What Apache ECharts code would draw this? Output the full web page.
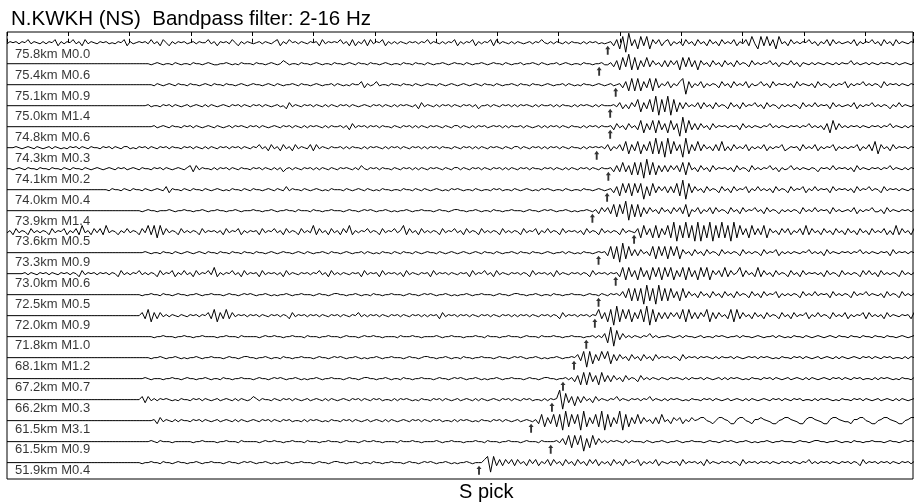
<!DOCTYPE html>
<html>
<head>
<meta charset="utf-8">
<script src="https://cdn.jsdelivr.net/npm/echarts@6/dist/echarts.min.js"></script>
<style>
  html, body { margin: 0; padding: 0; background: #fff; }
  #chart { width: 917px; height: 504px; }
</style>
</head>
<body>
<div id="chart"></div>
<script>
// event list, top to bottom
var distances = [75.8, 75.4, 75.1, 75.0, 74.8, 74.3, 74.1, 74.0, 73.9, 73.6, 73.3, 73.0, 72.5, 72.0, 71.8, 68.1, 67.2, 66.2, 61.5, 61.5, 51.9];
var magnitudes = [0.0, 0.6, 0.9, 1.4, 0.6, 0.3, 0.2, 0.4, 1.4, 0.5, 0.9, 0.6, 0.5, 0.9, 1.0, 1.2, 0.7, 0.3, 3.1, 0.9, 0.4];
// S pick time of each trace (s from the left edge)
var sPicks = [9.80, 9.66, 9.93, 9.84, 9.84, 9.62, 9.81, 9.79, 9.55, 10.23, 9.65, 9.93, 9.65, 9.59, 9.45, 9.25, 9.07, 8.89, 8.55, 8.87, 7.70];

// waveforms: one digit per sample, sampleInterval apart, starting at t = 0
// digit -> amplitude (px, up positive) via ampLevels
var sampleInterval = 0.049;
var ampLevels = [0, -9.5, -6.2, -3.1, -1.1, 0, 1.1, 3.1, 6.2, 9.5];
var traceCodes = [
  "4656465746 5464657364 6574637465 4656454657 3645656474 6375364656 4564655746 3656475364 6545646546 7364756465 4656374656 5746373647 3746573646 4654656465 7465464657 3646573646 5737465464 6545646575 4646546465 5464656454 5637281937 2838274736 7364637463 7463746374 6473647384 2838372846 3746465746 3647374645 6473646574 6374637465 4656465465",
  "5555555555 5555555555 5555555555 5555555555 5555555545 6545546545 5465545654 4556545465 5546554565 4576455465 5456545546 5545654655 4655456545 5465546554 6545565456 5546545565 4565546545 5645565465 4556456545 5465545564 4637283928 2738374637 3747283837 2746374637 4637465374 6465746365 4746365464 6546546465 5746456465 4656546456 5465645565",
  "5555555555 5555555555 5555555555 5555555555 5555555554 6545654655 4655456546 5546554565 4565545654 6545565465 5456545564 6545465573 6457455465 5465546545 6554654565 4565456546 5546545565 4655465545 6545564654 5465545654 5645637282 8273828364 7364781736 4736465374 6374647364 5746374656 4637465463 7465364657 3646574646 5374656465 4656465546",
  "5555555555 5555555555 5555555555 5555555555 5555555645 5465646545 6456546465 4565465646 5465646545 6453746546 5646546465 4656465456 5465646546 4656546374 6546465646 5465646355 6465465646 4656546465 5646465546 4656546465 5564736374 8273829182 9182737464 7374637465 3746374657 4637465364 6465374647 4656374645 6473646574 6465364746 5465646545",
  "5555555555 5555555555 5555555555 5555555555 5555555556 4565465546 5646545654 6545646565 4656465456 5465646546 4656546465 5646374656 4656465546 5465646465 4656546546 6465464656 4565646465 5646545646 4656465465 5464656465 5637463746 3827382837 2837192837 3746374656 4656374646 5465746465 4656465746 4637283746 4656465465 6465746546 4656546465",
  "5556545654 6545646545 4656465465 5465646546 6454656465 4656465546 5646546465 4656465646 5465746374 6374637465 4737465465 5646465546 4656546465 6465465646 4656465546 5465646465 4656546546 6465465646 4656465465 5464656564 7364738273 8273829281 9283719273 8374637383 6374647364 6473646573 4656374647 3646573646 4657364738 2746374656 4656465465",
  "5545654655 4655465546 5465546545 6545654656 4565465546 5646545654 6737465546 4656465465 5465646546 4635646546 5646465465 4656546475 4656465546 5465646465 4656546546 6465465646 5465646465 4656465546 5646546465 4656465465 5637383728 2819282737 3747382846 3746374656 4637465374 6465746364 5746465465 3656474656 4637465465 6465746546 4656465465",
  "5555555555 5555555555 5555555555 5555465546 5465546545 6547365546 5465546545 6545465546 5465545654 6547465546 5456545465 5546545654 6545465545 5465546546 5456545465 6545546545 5465645546 5456545465 6545546545 5465545654 5637283828 3817283747 3738291837 4637465374 6374657364 7464637465 3746573647 4656374656 4637465746 5374656465 4656465465",
  "5555555555 5555555555 5555555555 5555555555 5555545655 4555654556 5545565455 6554556545 5565545565 4556554655 5465545565 5545655456 5654556545 4556545565 5545655456 6554556545 5465545565 5545655456 5654556545 4556546374 7382839182 8273746374 6374738264 7364737465 3746374657 4637465364 6465374647 4656374645 6473646574 4637465465 6465465646",
  "4637465374 6465374657 3647384637 4738465364 7465374838 2837465374 6465374656 4637465736 4656374657 4637465374 6483746374 6374836465 7465374657 4683746374 6465374657 4637465374 6465374646 5374657364 7465374656 4637465374 6465374654 7283728273 8291829281 9182918292 8192837283 7382746374 7364738374 6374637463 7463746374 6473638374 6374637465",
  "5555555555 5555555555 5555555555 5555555555 5555556545 5465546545 6545654655 4655465546 5546554565 4565545654 6545565465 5456545564 6545465546 5465546545 6554654565 4565456546 5546545565 4655465545 6545564654 5465545656 3828192837 3746382838 2838274637 4637465374 6465374646 5374657364 6465465746 4637465465 6465746465 4656374656 4656465465",
  "5555556465 4656465465 6465374656 4656465374 6465746465 3746573647 4637465748 3646574637 4656374656 4637465465 6465746374 6465465637 4656374656 4637465465 6374656465 4656374657 4637465465 6465374656 4637465465 6465374656 4656382837 2837283828 3827382837 2838274738 3746837463 8374637465 3746374656 4637465374 6465374746 3746465374 6465374656",
  "5555555555 5555555555 5555555555 5555555555 5555545565 5465545655 4556545565 5545655456 5654556545 4556545565 5545655456 6554556545 5465545565 5545655456 5654556545 4556545565 5545655456 6554556545 5465545565 5545655465 4656473828 2819281928 2837283746 3746374637 4637465374 6374657364 6465374647 4656374646 5374657465 4637465374 6465374656",
  "5555555555 5555555555 5555555555 5555555555 5555573827 3746465465 4656465738 2738374656 4656465465 6465374656 4656465465 6465465746 4656465465 6465465646 4656374656 4656465465 6465465646 4656465465 6465374656 4656465837 2819283827 3829182737 3747382837 3748273746 3828374637 4637465374 6374657364 7465374647 3646573746 4637465465 6374656465",
  "5555555555 5555555555 5555555555 5555555555 5555555554 5565554556 5545565555 4556555465 5555456556 5545565554 6555455655 5456555456 5565545555 4655565545 5556545565 5545556554 6555455655 5456555465 5565545565 5545564647 2918374646 5465746455 6545646554 5645546565 4556465545 6545564654 5465546545 6545654655 4655465546 5546554565 4565545654",
  "5555555555 5555555555 5555555555 5555555555 5555555545 5654556545 4556545565 5545655456 6554556545 5465545565 5545655456 5654556545 4556545565 5545655456 6554556545 5465545565 5545655456 5654556545 4556545565 7381827384 8273746374 6374637465 6465374656 4656546465 5646545656 4656545465 5465646545 6456546465 4565465646 5465645546 4656545465",
  "5555555555 5555555555 5555555555 5555555555 5555556545 5545565545 6554556545 5465545565 5545655456 5654556545 4556545565 5545655456 6554556545 5465545565 5545655456 5654556545 4556545565 5545655456 6554556463 7282837283 7374637465 3746465465 4656546465 5646545646 4656545465 5465646545 6456546465 4565465646 5465645546 4656545465 5465646545",
  "5555555555 5555555555 5555555555 5555555555 5555573746 4656545465 5465646545 6456546465 4576465546 5465646545 6456546465 4565465646 5465645546 4656545465 5465646545 6456546465 4565465646 5465645546 4656918372 7374637465 4657465465 6465746546 4656545465 5465646545 6456546465 4565465646 5465645546 4656545465 5465646545 6456546465 4565465646",
  "5555555555 5555555555 5555555555 5555555555 5555555556 3746546465 5465646545 6456546465 4565465646 5465645546 4656545465 5465646545 6456546465 4565465646 5465645546 4656545465 5465646545 6456546382 7382819283 8192738291 8273918273 8374637384 6375736475 6775435776 5336775436 6765433567 7654336776 5433677654 4366775433 5677654335 6776543356",
  "5555555555 5555555555 5555555555 5555555555 5555555565 4655545555 5545565555 4556555465 5555456556 5545565554 6555455655 5456555456 5565545555 4655565545 5556545565 5545556554 6555455655 5456555465 5556473828 3817283746 4656546465 5546545565 4556545565 5545655456 5654556545 4556545565 5545655456 6554556545 5465545565 5545655456 5654556545",
  "5555555555 5555555555 5555555555 5555555555 5555545565 5465545655 4556545565 5545655456 5654556545 4556545565 5545655456 6554556545 5465545565 5545655456 5654556545 4556545557 8183737473 7463747364 7374637463 7463747364 6374637465 7364647365 4656374656 4637465465 6465374656 4656465465 6465465746 4656465465 6465374656 4656465465 6465465646"
];

var pxPerTrace = 21;   // vertical spacing of the traces
var timeMax = 14.78;   // width of the time window (s)

var chart = echarts.init(document.getElementById('chart'));

var series = [];
traceCodes.forEach(function (codeStr, i) {
  var codes = codeStr.replace(/\s+/g, '');
  var data = [];
  for (var k = 0; k < codes.length; k++) {
    data.push([k * sampleInterval, i - ampLevels[+codes[k]] / pxPerTrace]);
  }
  series.push({
    type: 'line',
    data: data,
    symbol: 'none',
    silent: true,
    clip: true,
    lineStyle: { width: 1, color: '#000' },
    z: 2
  });
});

// S pick arrows below each trace
series.push({
  type: 'scatter',
  silent: true,
  symbol: 'path://M2,0 L4,3.4 L2.75,3.4 L2.75,9 L1.25,9 L1.25,3.4 L0,3.4 Z',
  symbolSize: [5, 9],
  itemStyle: { color: '#000' },
  data: sPicks.map(function (t, i) { return [t, i + 0.36]; }),
  z: 3
});

// distance / magnitude labels
series.push({
  type: 'scatter',
  silent: true,
  symbolSize: 0,
  label: {
    show: true,
    position: 'right',
    distance: 0,
    formatter: '{b}',
    color: '#000',
    fontSize: 13,
    fontFamily: 'Liberation Sans, Arial, sans-serif'
  },
  data: distances.map(function (d, i) {
    return {
      name: d.toFixed(1) + 'km M' + magnitudes[i].toFixed(1),
      value: [0.13, i + 0.562 - 0.0091 * i]
    };
  }),
  z: 4
});

var tickAxis = {
  type: 'value',
  min: 0,
  max: timeMax,
  interval: 1,
  axisLine: { show: false },
  axisTick: { show: true, inside: true, length: 4, lineStyle: { color: '#000', width: 1 } },
  axisLabel: { show: false },
  splitLine: { show: false }
};

chart.setOption({
  animation: false,
  backgroundColor: '#fff',
  title: [
    {
      text: 'N.KWKH (NS)  Bandpass filter: 2-16 Hz',
      left: 11,
      top: 9,
      padding: 0,
      textStyle: { fontSize: 20.5, fontWeight: 'normal', color: '#000', fontFamily: 'Liberation Sans, Arial, sans-serif' }
    },
    {
      text: 'S pick',
      left: 459,
      top: 482,
      padding: 0,
      textStyle: { fontSize: 20, fontWeight: 'normal', color: '#000', fontFamily: 'Liberation Sans, Arial, sans-serif' }
    }
  ],
  grid: {
    left: 7,
    right: 4,
    top: 32,
    bottom: 25,
    show: true,
    borderColor: '#000',
    borderWidth: 1,
    containLabel: false
  },
  xAxis: [
    Object.assign({ position: 'bottom' }, tickAxis),
    Object.assign({ position: 'top' }, tickAxis)
  ],
  yAxis: {
    type: 'value',
    inverse: true,
    min: -0.51,
    max: 20.78,
    show: false
  },
  series: series
});
</script>
</body>
</html>
